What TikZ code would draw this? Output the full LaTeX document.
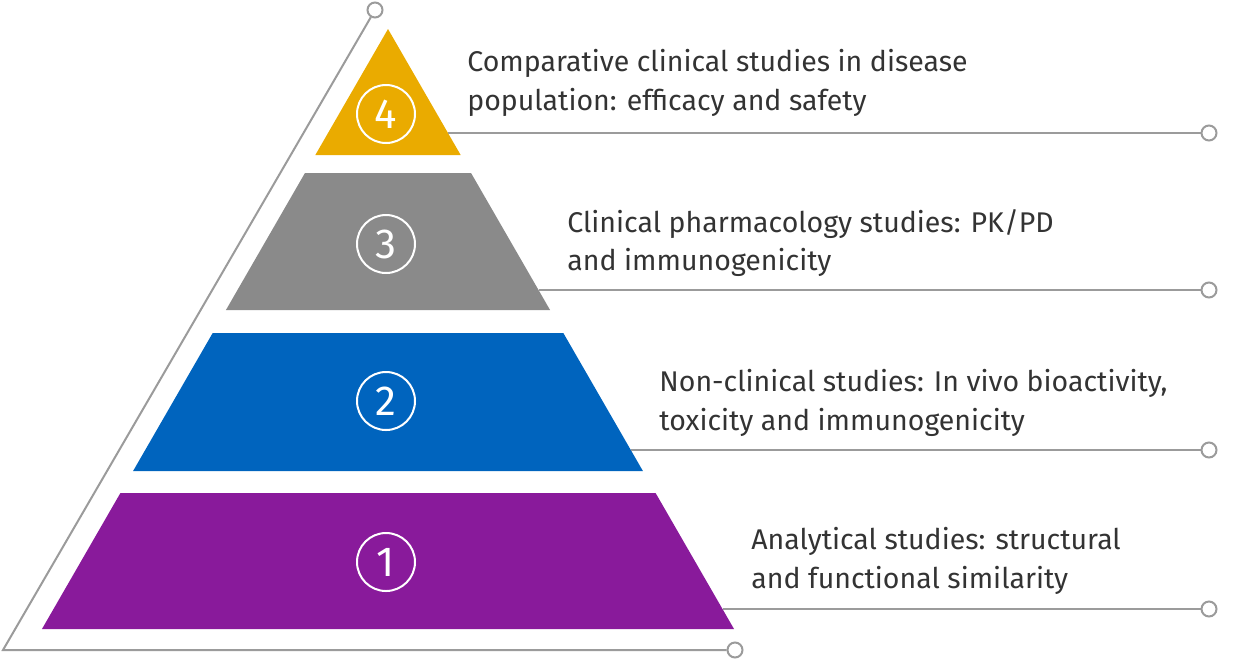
\documentclass[tikz,border=0pt]{standalone}
\usepackage{fontspec}
\setmainfont{Fira Sans}
\usetikzlibrary{positioning}
\definecolor{cGold}{RGB}{234,171,0}
\definecolor{cGrey}{RGB}{138,138,138}
\definecolor{cBlue}{RGB}{0,100,190}
\definecolor{cPurple}{RGB}{137,26,155}
\definecolor{cLine}{RGB}{155,155,155}
\definecolor{ink}{RGB}{51,51,51}
\tikzset{
  num/.style={circle,draw=white,line width=1pt,minimum size=29pt,inner sep=0pt,
    text=white,font=\fontsize{21}{21}\selectfont},
  knob/.style={circle,draw=cLine,fill=white,line width=1pt,minimum size=7.5pt,inner sep=0pt},
  lead/.style={draw=cLine,line width=1pt},
  caption/.style={anchor=west,align=left,text=ink,inner sep=0pt,
    font=\fontsize{14.25}{19.1}\selectfont},
}
\begin{document}
\begin{tikzpicture}[x=0.5pt,y=-0.5pt]
  \useasboundingbox (0,0) rectangle (1236,660);
  % outer frame
  \node[knob] (ktop) at (375,10) {};
  \coordinate (corner) at (3,650);
  \node[knob] (kbot) at (735,650) {};
  \draw[lead] (ktop) -- (corner) -- (kbot);
  % pyramid layers
  \foreach \n/\yt/\yb/\col/\yc/\ly in {4/29/155/cGold/114/133,3/173/310/cGrey/244/290,
      2/333/471/cBlue/401/450,1/493/629/cPurple/562/609} {
    \pgfmathsetmacro\wt{0.5767*(\yt-29)}
    \pgfmathsetmacro\wb{0.5767*(\yb-29)}
    \pgfmathsetmacro\wl{0.5767*(\ly-29)}
    \fill[\col] (388-\wt,\yt) -- (388+\wt,\yt) -- (388+\wb,\yb) -- (388-\wb,\yb) -- cycle;
    \node[num] (n\n) at (386,\yc) {\n};
    \coordinate (e\n) at (388+\wl,\ly);
    \node[knob] (k\n) at (1209,\ly) {};
    \draw[lead] (e\n) -- (k\n);
  }
  % captions
  \node[caption] (t4) at (467,83) {Comparative clinical studies in disease\\population: efficacy and safety};
  \node[caption] (t3) at (567,243) {Clinical pharmacology studies: PK/PD\\and immunogenicity};
  \node[caption] (t2) at (659,403) {Non-clinical studies: In vivo bioactivity,\\toxicity and immunogenicity};
  \node[caption] (t1) at (751,561) {Analytical studies: structural\\and functional similarity};
\end{tikzpicture}
\end{document}
